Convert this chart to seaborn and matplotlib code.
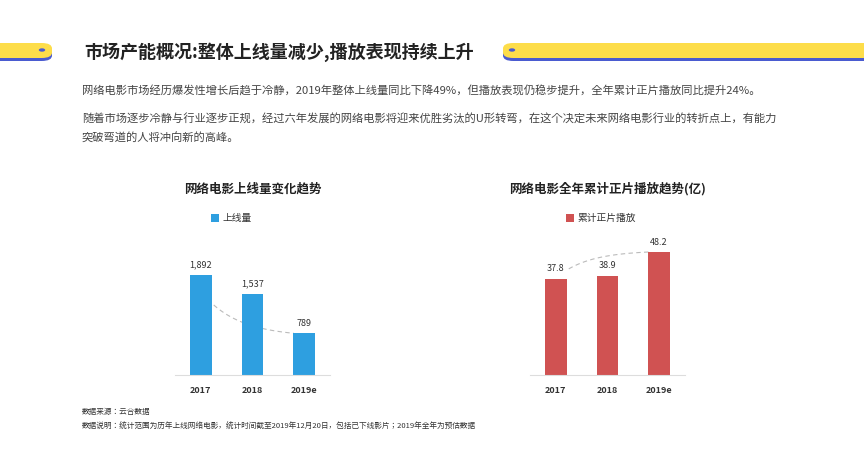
import numpy as np
import pandas as pd
import matplotlib
matplotlib.use("Agg")
import matplotlib.pyplot as plt
import seaborn as sns
from matplotlib import font_manager as fm
from matplotlib.patches import FancyBboxPatch, Circle

cjk = [f.name for f in fm.fontManager.ttflist if "CJK" in f.name]
plt.rcParams["font.family"] = ["Noto Sans CJK SC"] + sorted(set(cjk)) + ["DejaVu Sans"]
plt.rcParams["axes.unicode_minus"] = False

# --- Data ---
years = ["2017", "2018", "2019e"]
releases = [1892, 1537, 789]
plays = [37.8, 38.9, 48.2]
release_labels = ["1,892", "1,537", "789"]
play_labels = ["37.8", "38.9", "48.2"]

title = "市场产能概况:整体上线量减少,播放表现持续上升"
para1 = "网络电影市场经历爆发性增长后趋于冷静，2019年整体上线量同比下降49%，但播放表现仍稳步提升，全年累计正片播放同比提升24%。"
para2a = "随着市场逐步冷静与行业逐步正规，经过六年发展的网络电影将迎来优胜劣汰的U形转弯，在这个决定未来网络电影行业的转折点上，有能力"
para2b = "突破弯道的人将冲向新的高峰。"
foot1 = "数据来源：云合数据"
foot2 = "数据说明：统计范围为历年上线网络电影，统计时间截至2019年12月20日，包括已下线影片；2019年全年为预估数据"

BLUE = "#2E9FE0"
RED = "#D05252"
W, H = 864, 455

fig = plt.figure(figsize=(8.64, 4.55), dpi=100)

def fx(px):
    return px / W

def fy(py):
    return 1 - py / H

# --- header decorations ---
def banner(x0, x1):
    fig.patches.append(FancyBboxPatch((fx(x0), fy(61)), fx(x1 - x0), 14 / H,
                                      boxstyle="round,pad=0,rounding_size=0.012",
                                      transform=fig.transFigure, fc="#4A5BD0", ec="none"))
    fig.patches.append(FancyBboxPatch((fx(x0), fy(58)), fx(x1 - x0), 15 / H,
                                      boxstyle="round,pad=0,rounding_size=0.012",
                                      transform=fig.transFigure, fc="#FDDD4A", ec="none"))

banner(-20, 52)
banner(503, 890)
fig.patches.append(Circle((fx(42), fy(50)), 3.2 / W, transform=fig.transFigure, fc="#4A5BD0", ec="none"))
fig.patches.append(Circle((fx(512), fy(50)), 3.2 / W, transform=fig.transFigure, fc="#4A5BD0", ec="none"))

fig.text(fx(84), fy(52), title, fontsize=13, fontweight="bold", color="#222222", va="center")
fig.text(fx(82), fy(90), para1, fontsize=8.1, color="#444444", va="center")
fig.text(fx(82), fy(118), para2a, fontsize=8.1, color="#444444", va="center")
fig.text(fx(82), fy(137), para2b, fontsize=8.1, color="#444444", va="center")
fig.text(fx(82), fy(412), foot1, fontsize=5.5, color="#333333", va="center")
fig.text(fx(82), fy(427), foot2, fontsize=5.5, color="#333333", va="center")

# --- charts ---
def chart(left_px, values, labels, color, ttl, legend, top_scale, start, rising):
    ax = fig.add_axes([fx(left_px), fy(375), fx(155), 135 / H])
    df = pd.DataFrame({"year": years, "value": values})
    sns.barplot(data=df, x="year", y="value", color=color, width=0.42, ax=ax, saturation=1)
    ax.set_ylim(0, top_scale)
    for i, (v, lab) in enumerate(zip(values, labels)):
        ax.text(i, v + top_scale * 0.04, lab, ha="center", va="bottom", fontsize=6.5, color="#333333")
    # smooth dashed trend towards last bar
    end = values[-1]
    t = np.linspace(0, 1, 60)
    xx = 0.25 + t * 1.55
    k = 2.5 if rising else 2.2
    shape = (1 - np.exp(-k * t)) / (1 - np.exp(-k))
    ax.plot(xx, start + (end - start) * shape, ls=(0, (4, 3)), color="#BBBBBB", lw=0.8, zorder=0)
    for s in ["top", "right", "left"]:
        ax.spines[s].set_visible(False)
    ax.spines["bottom"].set_color("#DDDDDD")
    ax.set_yticks([])
    ax.set_xlabel("")
    ax.set_ylabel("")
    ax.tick_params(axis="x", length=0, pad=8, labelsize=6.5)
    for tl in ax.get_xticklabels():
        tl.set_fontweight("bold")
        tl.set_color("#333333")
    ax.set_xlim(-0.5, 2.5)
    cx = left_px + 155 / 2
    fig.text(fx(cx), fy(189), ttl, fontsize=9, fontweight="bold", ha="center", va="center", color="#222222")
    fig.patches.append(plt.Rectangle((fx(cx - 42), fy(222)), 8 / W, 8 / H, transform=fig.transFigure,
                                     fc=color, ec="none"))
    fig.text(fx(cx - 30), fy(218), legend, fontsize=7, ha="left", va="center", color="#333333")

chart(175, releases, release_labels, BLUE, "网络电影上线量变化趋势", "上线量", 2554, releases[0] * 0.7, False)
chart(530, plays, play_labels, RED, "网络电影全年累计正片播放趋势(亿)", "累计正片播放", 52.9, plays[0] * 1.1, True)

fig.savefig("out.png", dpi=100, facecolor="white")
